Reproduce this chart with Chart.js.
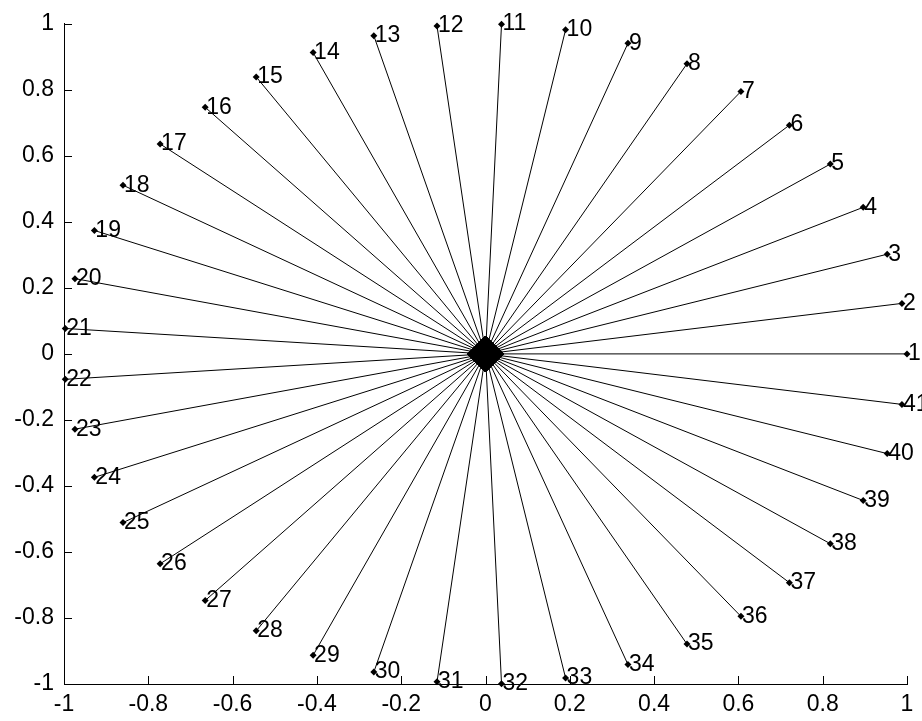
<!DOCTYPE html>
<html lang="en">
  <head>
    <meta charset="UTF-8" />
    <title>Spokes</title>
    <style>
      html,
      body {
        margin: 0;
        padding: 0;
        background: white;
      }
      .container {
        position: relative;
        width: 922px;
        height: 721px;
      }
    </style>
  </head>
  <body>
    <div class="container"><canvas id="chart"></canvas></div>

    <script src="https://cdn.jsdelivr.net/npm/chart.js@4.4.0/dist/chart.umd.min.js"></script>
    <script>
      // end points of the 41 spokes
      const pointLabels = [
        "1", "2", "3", "4", "5", "6", "7", "8", "9", "10", "11", "12", "13", "14",
        "15", "16", "17", "18", "19", "20", "21", "22", "23", "24", "25", "26", "27",
        "28", "29", "30", "31", "32", "33", "34", "35", "36", "37", "38", "39", "40", "41",
      ];
      const xValues = [
        1.0, 0.988, 0.953, 0.896, 0.818, 0.721, 0.606, 0.478, 0.338, 0.19, 0.038,
        -0.115, -0.265, -0.409, -0.544, -0.665, -0.772, -0.86, -0.928, -0.974, -0.997,
        -0.997, -0.974, -0.928, -0.86, -0.772, -0.665, -0.544, -0.409, -0.265, -0.115,
        0.038, 0.19, 0.338, 0.478, 0.606, 0.721, 0.818, 0.896, 0.953, 0.988,
      ];
      const yValues = [
        0.0, 0.153, 0.302, 0.444, 0.575, 0.693, 0.795, 0.879, 0.941, 0.982, 0.999,
        0.993, 0.964, 0.913, 0.839, 0.747, 0.636, 0.511, 0.374, 0.228, 0.077,
        -0.077, -0.228, -0.374, -0.511, -0.636, -0.747, -0.839, -0.913, -0.964, -0.993,
        -0.999, -0.982, -0.941, -0.879, -0.795, -0.693, -0.575, -0.444, -0.302, -0.153,
      ];
      const xTicks = [-1, -0.8, -0.6, -0.4, -0.2, 0, 0.2, 0.4, 0.6, 0.8, 1];
      const yTicks = [-1, -0.8, -0.6, -0.4, -0.2, 0, 0.2, 0.4, 0.6, 0.8, 1];

      const FONT = { family: "'Liberation Sans', Arial, sans-serif", size: 23 };
      const fmt = (v) => String(Math.round(v * 10) / 10);

      // one dataset per spoke: origin -> end point
      const datasets = xValues.map((x, i) => ({
        label: pointLabels[i],
        data: [
          { x: 0, y: 0 },
          { x: x, y: yValues[i] },
        ],
        showLine: true,
        borderColor: "#000",
        borderWidth: 1,
        backgroundColor: "#000",
        pointStyle: "rectRot",
        pointRadius: [18, 3.5],
        pointBorderWidth: 0,
        clip: false,
      }));

      // labels next to each end point, plus inward tick marks
      const extras = {
        id: "extras",
        afterDatasetsDraw(chart) {
          const { ctx, scales } = chart;
          const sx = scales.x;
          const sy = scales.y;
          ctx.save();
          ctx.fillStyle = "#000";
          ctx.font = `${FONT.size}px ${FONT.family}`;
          ctx.textAlign = "left";
          ctx.textBaseline = "middle";
          pointLabels.forEach((t, i) => {
            ctx.fillText(t, sx.getPixelForValue(xValues[i]) + 1, sy.getPixelForValue(yValues[i]));
          });

          ctx.strokeStyle = "#000";
          ctx.lineWidth = 1;
          ctx.beginPath();
          xTicks.forEach((v) => {
            const px = Math.round(sx.getPixelForValue(v)) + 0.5;
            ctx.moveTo(px, sy.bottom);
            ctx.lineTo(px, sy.bottom - 8);
          });
          yTicks.forEach((v) => {
            const py = Math.round(sy.getPixelForValue(v)) + 0.5;
            ctx.moveTo(sx.left, py);
            ctx.lineTo(sx.left + 8, py);
          });
          ctx.stroke();
          ctx.restore();
        },
      };

      new Chart(document.getElementById("chart"), {
        type: "scatter",
        data: { datasets },
        options: {
          responsive: true,
          maintainAspectRatio: false,
          animation: false,
          layout: { autoPadding: false, padding: { top: 19, right: 15, left: 0, bottom: 0 } },
          plugins: { legend: { display: false }, tooltip: { enabled: false } },
          scales: {
            x: {
              type: "linear",
              min: -1,
              max: 1,
              afterBuildTicks: (s) => {
                s.ticks = xTicks.map((v) => ({ value: v }));
              },
              afterFit: (s) => {
                s.height = 37;
              },
              grid: { display: true, drawOnChartArea: false, drawTicks: false },
              border: { display: true, color: "#000", width: 1 },
              ticks: { color: "#000", font: FONT, padding: 7, maxRotation: 0, autoSkip: false, callback: fmt },
            },
            y: {
              type: "linear",
              min: -1,
              max: 1,
              afterBuildTicks: (s) => {
                s.ticks = yTicks.map((v) => ({ value: v }));
              },
              afterFit: (s) => {
                s.width = 64;
              },
              grid: { display: true, drawOnChartArea: false, drawTicks: false },
              border: { display: true, color: "#000", width: 1 },
              ticks: { color: "#000", font: FONT, padding: 10, autoSkip: false, callback: fmt },
            },
          },
        },
        plugins: [extras],
      });
    </script>
  </body>
</html>
